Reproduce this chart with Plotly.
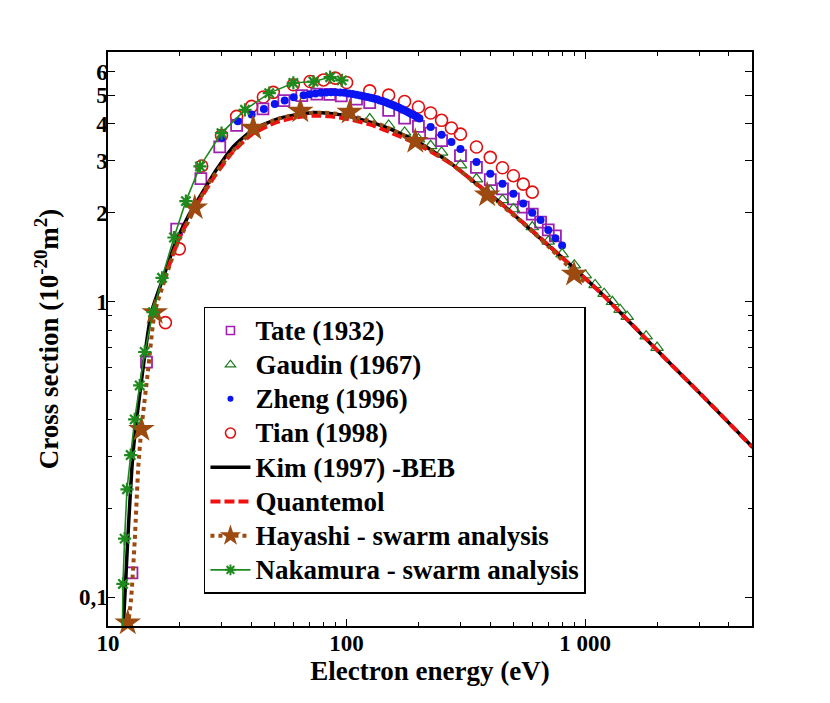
import plotly.graph_objects as go

# ---------------- data ----------------
tate_E = [12.6, 14.5, 19.4, 24.5, 29.4, 34.6, 44.6, 54.6, 64.9, 75, 85, 95, 110, 125, 150, 175, 200,
          225, 250, 300, 350, 400, 450, 500, 550, 600, 650, 700, 750]
tate_S = [0.121, 0.625, 1.76, 2.61, 3.34, 3.95, 4.49, 4.79, 4.98, 5.04, 5.03, 4.97, 4.85, 4.72, 4.44, 4.18, 3.92,
          3.72, 3.51, 3.12, 2.85, 2.59, 2.41, 2.23, 2.09, 1.98, 1.86, 1.75, 1.67]

gaudin_E = [100, 125, 150, 175, 200, 225, 250, 300, 350, 400, 450, 500, 600, 700, 800, 900, 1000,
            1100, 1200, 1300, 1400, 1500, 1800, 2000]
gaudin_S = [4.30, 4.15, 3.95, 3.74, 3.55, 3.37, 3.20, 2.90, 2.60, 2.37, 2.21, 2.06, 1.79, 1.60, 1.45, 1.33, 1.23,
            1.14, 1.065, 1.00, 0.94, 0.89, 0.765, 0.70]

zheng_E = [30, 35, 40, 45, 50, 55, 60,
           66, 70, 74, 78, 82, 86, 90, 94, 98, 102, 106, 110, 114, 118, 122, 126, 130, 134, 138, 142,
           146, 150, 154, 158, 162, 166, 170, 174, 178, 182, 186, 190, 194, 198, 202,
           225, 250, 275, 300, 350, 400, 450, 500, 550, 600, 650, 700, 750, 800]
zheng_S = [3.59, 4.08, 4.30, 4.49, 4.67, 4.80, 4.92,
           5.00, 5.04, 5.07, 5.09, 5.10, 5.11, 5.11, 5.10, 5.09, 5.07, 5.05, 5.02, 4.99, 4.96, 4.93, 4.90,
           4.87, 4.84, 4.80, 4.77, 4.73, 4.69, 4.65, 4.61, 4.57, 4.53, 4.49, 4.45, 4.41, 4.37, 4.33, 4.29,
           4.25, 4.21, 4.17,
           3.90, 3.67, 3.47, 3.29, 2.97, 2.71, 2.51, 2.32, 2.15, 2.00, 1.89, 1.75, 1.64, 1.55]

tian_E = [17.4, 19.9, 24.7, 29.9, 34.6, 40, 44.8, 49.3, 59.8, 70.3, 80, 89.6, 100, 125, 150, 175, 200,
          225, 250, 275, 300, 350, 400, 450, 500, 550, 600]
tian_S = [0.85, 1.51, 2.88, 3.65, 4.24, 4.58, 4.93, 5.11, 5.42, 5.56, 5.63, 5.71, 5.52, 5.17, 5.00, 4.76, 4.56,
          4.35, 4.11, 3.87, 3.69, 3.34, 3.08, 2.84, 2.67, 2.50, 2.35]

kim_E = [11.5, 12.1, 12.7, 13.6, 15.2, 17.0, 19.0, 21.7, 24.3, 28.5, 33.5, 40.6, 52.6, 72.6, 100, 143, 197,
         272, 376, 442, 610, 843, 1164, 1605, 2218, 3055, 5047]
kim_S = [0.07, 0.157, 0.30, 0.49, 0.92, 1.20, 1.55, 1.95, 2.27, 2.80, 3.35, 3.82, 4.18, 4.37, 4.26, 3.92, 3.49,
         2.95, 2.39, 2.16, 1.71, 1.36, 1.07, 0.822, 0.630, 0.486, 0.321]

quant_E = [17, 20, 24, 28, 33, 40, 50, 60, 72, 85, 100, 125, 150, 200, 275, 375, 450, 600, 850, 1150,
           1600, 2200, 3000, 5000]
quant_S = [1.16, 1.66, 2.18, 2.66, 3.18, 3.68, 4.03, 4.19, 4.26, 4.24, 4.16, 3.98, 3.76, 3.40, 2.92, 2.40,
           2.13, 1.74, 1.35, 1.08, 0.825, 0.634, 0.494, 0.323]

hayashi_E = [12.0, 12.5, 12.95, 13.4, 13.8, 14.7, 15.7, 17.5, 19.6, 23.1, 26.7, 32.4, 40.6, 50, 64, 80, 103,
             140, 194, 270, 388, 550, 700, 898, 1000]
hayashi_S = [0.075, 0.099, 0.157, 0.278, 0.37, 0.58, 0.92, 1.22, 1.58, 2.06, 2.55, 3.15, 3.78, 4.12, 4.33,
             4.36, 4.27, 3.96, 3.50, 2.96, 2.33, 1.84, 1.54, 1.26, 1.16]
hayashi_star_E = [12.1, 13.8, 15.7, 23.1, 40.6, 64, 103, 194, 388, 898]
hayashi_star_S = [0.082, 0.37, 0.92, 2.08, 3.87, 4.42, 4.38, 3.49, 2.30, 1.24]

nakamura_E = [11.48, 11.55, 11.74, 12.01, 12.45, 12.94, 13.58, 14.25, 15.44, 16.85, 18.9, 21.2, 24.3, 29.9,
              37.5, 47.4, 59.8, 72.6, 85.3, 95.5]
nakamura_S = [0.07, 0.111, 0.158, 0.232, 0.303, 0.40, 0.521, 0.676, 0.922, 1.205, 1.65, 2.19, 2.87, 3.72,
              4.46, 5.08, 5.50, 5.56, 5.75, 5.61]

legend_names = ["Tate (1932)", "Gaudin (1967)", "Zheng (1996)", "Tian (1998)", "Kim (1997) -BEB",
                "Quantemol", "Hayashi - swarm analysis", "Nakamura - swarm analysis"]

x_major = [10, 100, 1000]
x_major_text = ["10", "100", "1 000"]
x_minor = [20, 30, 40, 50, 60, 70, 80, 90, 200, 300, 400, 500, 600, 700, 800, 900, 2000, 3000, 4000]
y_major = [0.1, 1, 2, 3, 4, 5, 6]
y_major_text = ["0,1", "1", "2", "3", "4", "5", "6"]
y_minor = [0.2, 0.3, 0.4, 0.5, 0.6, 0.7, 0.8, 0.9]

# ---------------- styles ----------------
C_TATE = "#A020B0"
C_GAUDIN = "#1E7A1E"
C_ZHENG = "#0A14F0"
C_TIAN = "#E01010"
C_KIM = "#000000"
C_QUANT = "#F01010"
C_HAY = "#9C4A10"
C_NAK = "#1E8A1E"
FONT = "Liberation Serif, Times New Roman, Times, DejaVu Serif, serif"

fig = go.Figure()

fig.add_trace(go.Scatter(x=tian_E, y=tian_S, mode="markers", showlegend=False,
                         marker=dict(symbol="circle-open", size=12, color=C_TIAN, line=dict(width=1.6))))
fig.add_trace(go.Scatter(x=tate_E, y=tate_S, mode="markers", showlegend=False,
                         marker=dict(symbol="square-open", size=11, color=C_TATE, line=dict(width=1.8))))
fig.add_trace(go.Scatter(x=zheng_E, y=zheng_S, mode="markers", showlegend=False,
                         marker=dict(symbol="circle", size=8, color=C_ZHENG)))
fig.add_trace(go.Scatter(x=gaudin_E, y=gaudin_S, mode="markers", showlegend=False,
                         marker=dict(symbol="triangle-up-open", size=11, color=C_GAUDIN, line=dict(width=1.2))))
fig.add_trace(go.Scatter(x=kim_E, y=kim_S, mode="lines", showlegend=False,
                         line=dict(color=C_KIM, width=3.5, shape="spline", smoothing=0.6)))
fig.add_trace(go.Scatter(x=quant_E, y=quant_S, mode="lines", showlegend=False,
                         line=dict(color=C_QUANT, width=4, dash="10px,4px", shape="spline", smoothing=0.6)))
fig.add_trace(go.Scatter(x=hayashi_E, y=hayashi_S, mode="lines", showlegend=False,
                         line=dict(color=C_HAY, width=4, dash="4px,4px", shape="spline", smoothing=0.6)))
fig.add_trace(go.Scatter(x=hayashi_star_E, y=hayashi_star_S, mode="markers", showlegend=False, cliponaxis=False,
                         marker=dict(symbol="star", size=20, color=C_HAY, line=dict(width=0))))
fig.add_trace(go.Scatter(x=nakamura_E, y=nakamura_S, mode="lines+markers", showlegend=False,
                         line=dict(color=C_NAK, width=1.6),
                         marker=dict(symbol="asterisk-open", size=11, color=C_NAK, line=dict(width=2.2, color=C_NAK))))

# legend entries (symbols drawn smaller, as in the reference legend)
def lg(name):
    return '<span style="font-size:27px">' + name + '</span>'

leg_styles = [
    dict(mode="markers", marker=dict(symbol="square-open", size=8, color=C_TATE, line=dict(width=1.6))),
    dict(mode="markers", marker=dict(symbol="triangle-up-open", size=9, color=C_GAUDIN, line=dict(width=1.2))),
    dict(mode="markers", marker=dict(symbol="circle", size=6, color=C_ZHENG)),
    dict(mode="markers", marker=dict(symbol="circle-open", size=10, color=C_TIAN, line=dict(width=1.6))),
    dict(mode="lines", line=dict(color=C_KIM, width=3.5)),
    dict(mode="lines", line=dict(color=C_QUANT, width=4, dash="10px,4px")),
    dict(mode="lines+markers", line=dict(color=C_HAY, width=4, dash="4px,4px"),
         marker=dict(symbol="star", size=16, color=C_HAY, line=dict(width=0))),
    dict(mode="lines+markers", line=dict(color=C_NAK, width=1.6),
         marker=dict(symbol="asterisk-open", size=9, color=C_NAK, line=dict(width=2, color=C_NAK))),
]
for i, (nm, st) in enumerate(zip(legend_names, leg_styles)):
    fig.add_trace(go.Scatter(x=[None], y=[None], name=lg(nm), legendgroup="g%d" % i, showlegend=True, **st))

axis_common = dict(
    type="log", showgrid=False, zeroline=False,
    showline=True, linecolor="black", linewidth=1.5, mirror="ticks",
    ticks="inside", ticklen=7, tickwidth=1.2, tickcolor="black",
    tickfont=dict(family=FONT, size=23, color="black", weight="bold"),
    tickmode="array",
)

fig.update_xaxes(**axis_common, range=[1, 3.69897], tickvals=x_major, ticktext=x_major_text,
                 ticklabelstandoff=-4,
                 minor=dict(tickmode="array", tickvals=x_minor, ticks="inside", ticklen=4, tickwidth=1.2,
                            tickcolor="black"),
                 title=dict(text="Electron energy (eV)", standoff=4,
                            font=dict(family=FONT, size=27, color="black", weight="bold")))
fig.update_yaxes(**axis_common, range=[-1.097, 0.845], tickvals=y_major, ticktext=y_major_text,
                 ticklabelstandoff=-6,
                 minor=dict(tickmode="array", tickvals=y_minor, ticks="inside", ticklen=4, tickwidth=1.2,
                            tickcolor="black"),
                 title=dict(text="Cross section (10<sup>-20</sup>m<sup>2</sup>)", standoff=12,
                            font=dict(family=FONT, size=27, color="black", weight="bold")))

# page body adds an 8px margin, so the figure is 822x695 inside the 830x703 window
fig.update_layout(
    width=822, height=695,
    margin=dict(l=100, r=78, t=44, b=77, autoexpand=False),
    paper_bgcolor="white", plot_bgcolor="white",
    font=dict(family=FONT, color="black"),
    legend=dict(x=0.149, y=0.556, xanchor="left", yanchor="top",
                bgcolor="white", bordercolor="black", borderwidth=1.5,
                font=dict(family=FONT, size=24, color="black", weight="bold"),
                traceorder="grouped", tracegroupgap=0, itemwidth=40),
)

fig.write_html("out.html")
